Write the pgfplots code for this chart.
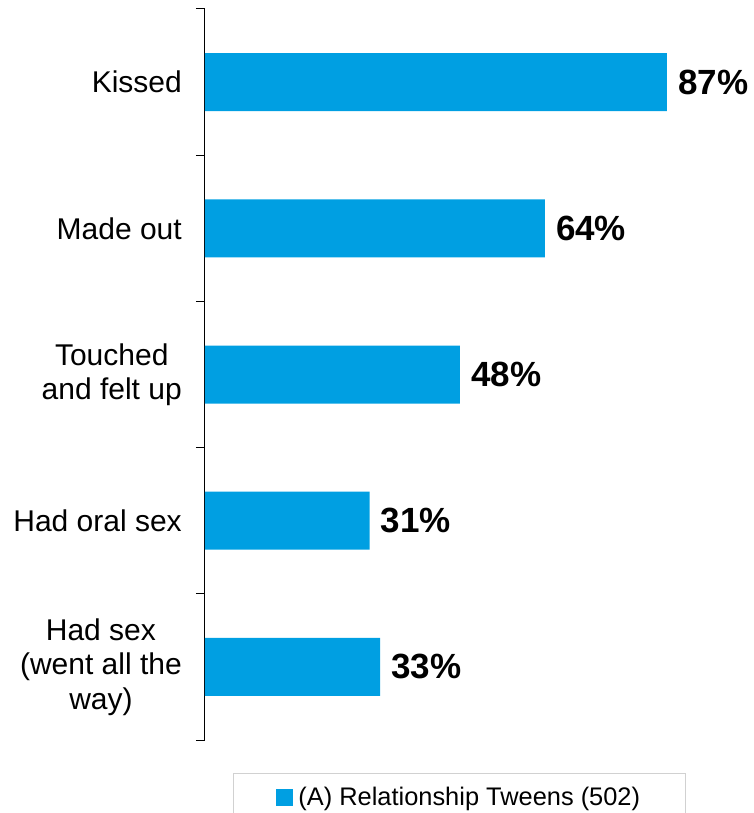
\documentclass[border=0pt]{standalone}
\usepackage{pgfplots}
\pgfplotsset{compat=1.18}
\usepackage{fontspec}
\setmainfont{Liberation Sans}
\definecolor{bblue}{RGB}{0,159,226}
\begin{document}
\begin{tikzpicture}
\begin{axis}[
  scale only axis,
  width=531pt, height=731pt,
  xbar, bar width=58pt,
  xmin=0, xmax=100,
  ymin=-0.5, ymax=4.5,
  y dir=reverse,
  axis x line=none,
  axis y line*=left,
  clip=false,
  ytick={0,1,2,3,4},
  yticklabels={Kissed, Made out, {Touched\\and felt up}, Had oral sex, {Had sex\\(went all the\\way)}},
  major tick length=0pt,
  minor ytick={-0.5,0.5,1.5,2.5,3.5,4.5},
  minor tick length=9pt,
  tick align=outside,
  y axis line style={black, line width=1pt},
  every minor tick/.style={black, line width=1pt},
  yticklabel style={font=\fontsize{30}{34.5}\selectfont, align=center, anchor=east, inner sep=0pt, xshift=-23pt},
  /pgf/number format/assume math mode=true,
  nodes near coords={\pgfmathprintnumber{\pgfplotspointmeta}\%},
  nodes near coords style={font=\bfseries\fontsize{35}{40}\selectfont, inner sep=0pt, anchor=west, xshift=11pt, black},
  point meta=x,
  legend style={at={(axis cs:5.27,4.5)}, anchor=north west, yshift=-33pt,
    draw=black!18, line width=1pt, font=\fontsize{25.4}{30}\selectfont,
    inner xsep=43pt, inner ysep=12pt, legend cell align=left,
    /tikz/every even column/.append style={column sep=0pt}},
  legend image code/.code={\fill[bblue] (0pt,-8.5pt) rectangle (17pt,8.5pt); \path (20pt,0pt);},
]
\addplot[fill=bblue, draw=none] coordinates {(87,0) (64,1) (48,2) (31,3) (33,4)};
\addlegendentry{(A) Relationship Tweens (502)}
\coordinate (A) at (axis cs:0,-0.5);
\end{axis}
\pgfresetboundingbox
\path[use as bounding box] ([shift={(-205pt,9pt)}]A) rectangle ([shift={(548pt,-804pt)}]A);
\end{tikzpicture}
\end{document}
